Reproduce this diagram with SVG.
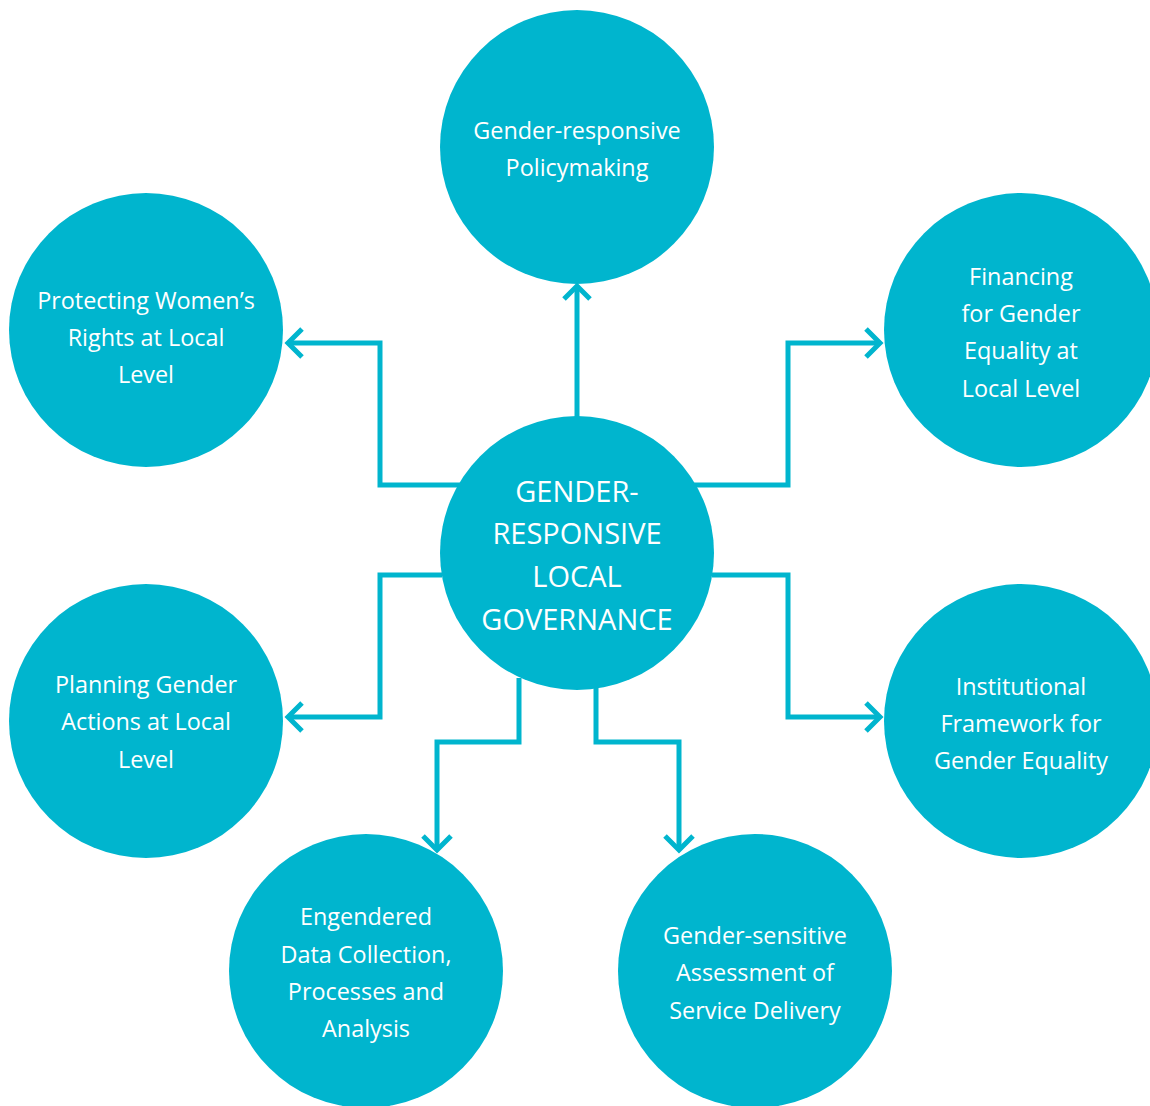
<svg xmlns="http://www.w3.org/2000/svg" width="1150" height="1106" viewBox="0 0 1150 1106">
<style>
.n{fill:#00b5ce}
.t{fill:#fff;font-family:"Open Sans","Liberation Sans",sans-serif;font-size:23.4px;text-anchor:middle}
.c{font-size:29px}
.l{fill:none;stroke:#00b5ce;stroke-width:5}
</style>
<rect width="1150" height="1106" fill="#fff"/>
<g id="connectors" class="l">
<path d="M577,418 V286"/><path d="M564,299 L577,286 L590,299"/>
<path d="M460,485 H380 V343 H288"/><path d="M302,329 L288,343 L302,357"/>
<path d="M694,485 H788 V343 H880"/><path d="M866,329 L880,343 L866,357"/>
<path d="M442,575 H380 V717 H288"/><path d="M302,703 L288,717 L302,731"/>
<path d="M712,575 H788 V717 H880"/><path d="M866,703 L880,717 L866,731"/>
<path d="M519,678 V742 H437 V850"/><path d="M423,836 L437,850 L451,836"/>
<path d="M596,688 V742 H679 V850"/><path d="M665,836 L679,850 L693,836"/>
</g>
<g id="center"><circle class="n" cx="577" cy="553" r="137"/>
<text class="t c" x="577" y="502">GENDER-</text><text class="t c" x="577" y="544">RESPONSIVE</text><text class="t c" x="577" y="587">LOCAL</text><text class="t c" x="577" y="630">GOVERNANCE</text></g>
<g id="policy"><circle class="n" cx="577" cy="147" r="137"/>
<text class="t" x="577" y="139">Gender-responsive</text><text class="t" x="577" y="176">Policymaking</text></g>
<g id="rights"><circle class="n" cx="146" cy="330" r="137"/>
<text class="t" x="146" y="309">Protecting Women’s</text><text class="t" x="146" y="346">Rights at Local</text><text class="t" x="146" y="383">Level</text></g>
<g id="financing"><circle class="n" cx="1021" cy="330" r="137"/>
<text class="t" x="1021" y="285">Financing</text><text class="t" x="1021" y="322">for Gender</text><text class="t" x="1021" y="359">Equality at</text><text class="t" x="1021" y="397">Local Level</text></g>
<g id="planning"><circle class="n" cx="146" cy="721" r="137"/>
<text class="t" x="146" y="693">Planning Gender</text><text class="t" x="146" y="730">Actions at Local</text><text class="t" x="146" y="768">Level</text></g>
<g id="institutional"><circle class="n" cx="1021" cy="721" r="137"/>
<text class="t" x="1021" y="695">Institutional</text><text class="t" x="1021" y="732">Framework for</text><text class="t" x="1021" y="769">Gender Equality</text></g>
<g id="data"><circle class="n" cx="366" cy="971" r="137"/>
<text class="t" x="366" y="925">Engendered</text><text class="t" x="366" y="963">Data Collection,</text><text class="t" x="366" y="1000">Processes and</text><text class="t" x="366" y="1037">Analysis</text></g>
<g id="service"><circle class="n" cx="755" cy="971" r="137"/>
<text class="t" x="755" y="944">Gender-sensitive</text><text class="t" x="755" y="981">Assessment of</text><text class="t" x="755" y="1019">Service Delivery</text></g>
</svg>
